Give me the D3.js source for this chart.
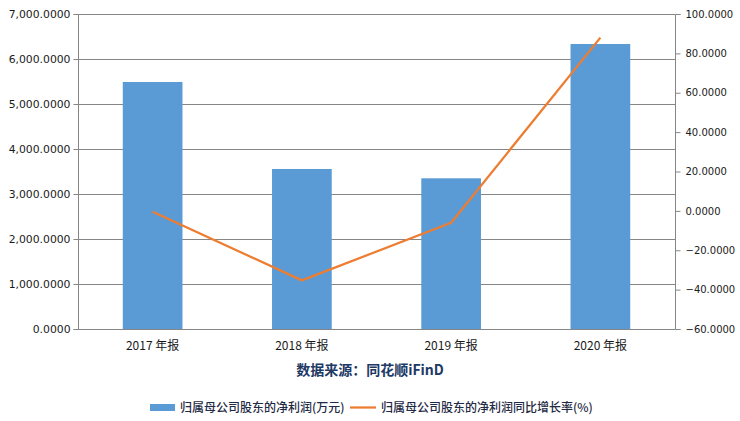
<!DOCTYPE html>
<html>
<head>
<meta charset="utf-8">
<script src="https://cdn.jsdelivr.net/npm/d3@7/dist/d3.min.js"></script>
<style>
html,body{margin:0;padding:0;background:#fff;}
svg{display:block;}
</style>
</head>
<body>
<svg id="chart" width="740" height="421"></svg>
<script>
const categories = ["2017 年报", "2018 年报", "2019 年报", "2020 年报"];
const profit = [5489, 3556, 3349, 6333];
const growth = [-0.4, -35.3, -6.0, 88.0];
const leftTicks = [0, 1000, 2000, 3000, 4000, 5000, 6000, 7000];
const rightTicks = [-60, -40, -20, 0, 20, 40, 60, 80, 100];
const seriesNames = ["归属母公司股东的净利润(万元)", "归属母公司股东的净利润同比增长率(%)"];
const sourceText = "数据来源：同花顺iFinD";

const svg = d3.select("#chart");
const L = 78, R = 675, T = 14, B = 329;
const numFont = "'DejaVu Sans', Verdana, sans-serif";
const cjkFont = "'Noto Sans CJK SC', 'Microsoft YaHei', sans-serif";

const x = d3.scaleBand().domain(categories).range([L, R]).padding(0);
const yL = d3.scaleLinear().domain([0, 7000]).range([B, T]);
const yR = d3.scaleLinear().domain([-60, 100]).range([B, T]);
const fmtL = d3.format(",.4f");
const fmtR = d3.format(".4f");

// gridlines
svg.append("g").selectAll("line").data(leftTicks.filter(d => d > 0)).join("line")
  .attr("x1", L).attr("x2", R)
  .attr("y1", d => Math.round(yL(d)) + 0.5).attr("y2", d => Math.round(yL(d)) + 0.5)
  .attr("stroke", "#868686").attr("stroke-width", 1);

// bars
const bw = x.bandwidth() * 0.4;
svg.append("g").selectAll("rect").data(profit).join("rect")
  .attr("x", (d, i) => x(categories[i]) + (x.bandwidth() - bw) / 2)
  .attr("width", bw)
  .attr("y", d => yL(d))
  .attr("height", d => B - yL(d))
  .attr("fill", "#5B9BD5");

// left axis
const axL = d3.axisLeft(yL).tickValues(leftTicks).tickFormat(fmtL).tickSize(5).tickPadding(3);
const gL = svg.append("g").attr("transform", `translate(${L + 0.5},0)`).call(axL);
gL.select(".domain").attr("stroke", "#868686").attr("d", `M-5,${T + 0.5}H0V${B + 0.5}H-5`);
gL.selectAll(".tick line").attr("stroke", "#868686");
gL.selectAll("text").attr("font-family", numFont).attr("font-size", 10.8).attr("fill", "#1a1a1a");

// right axis
const axR = d3.axisRight(yR).tickValues(rightTicks).tickFormat(fmtR).tickSize(5).tickPadding(5);
const gR = svg.append("g").attr("transform", `translate(${R + 0.5},0)`).call(axR);
gR.select(".domain").attr("stroke", "#868686").attr("d", `M5,${T + 0.5}H0V${B + 0.5}H5`);
gR.selectAll(".tick line").attr("stroke", "#868686");
gR.selectAll("text").attr("font-family", numFont).attr("font-size", 10).attr("fill", "#1a1a1a");

// bottom axis
const axB = d3.axisBottom(x).tickSize(0).tickPadding(12);
const gB = svg.append("g").attr("transform", `translate(0,${B + 0.5})`).call(axB);
gB.select(".domain").attr("stroke", "#868686").attr("d", `M${L},0H${R}`);
gB.selectAll("text").attr("font-family", cjkFont).attr("font-size", 12).attr("fill", "#1a1a1a");

// line
const line = d3.line()
  .x((d, i) => x(categories[i]) + x.bandwidth() / 2)
  .y(d => yR(d));
svg.append("path").datum(growth)
  .attr("d", line)
  .attr("fill", "none")
  .attr("stroke", "#ED7D31")
  .attr("stroke-width", 2.25)
  .attr("stroke-linejoin", "round");

// source text
svg.append("text").attr("x", 370).attr("y", 375)
  .attr("text-anchor", "middle")
  .attr("font-family", cjkFont).attr("font-size", 14).attr("font-weight", "bold")
  .attr("fill", "#203864")
  .text(sourceText);

// legend
const lg = svg.append("g");
lg.append("rect").attr("x", 150).attr("y", 404).attr("width", 25).attr("height", 7).attr("fill", "#5B9BD5");
lg.append("text").attr("x", 180).attr("y", 412)
  .attr("font-family", cjkFont).attr("font-size", 12).attr("font-weight", 500).attr("fill", "#1f2a44")
  .text(seriesNames[0]);
lg.append("line").attr("x1", 350).attr("x2", 376).attr("y1", 407.5).attr("y2", 407.5)
  .attr("stroke", "#ED7D31").attr("stroke-width", 2.25);
lg.append("text").attr("x", 381).attr("y", 412)
  .attr("font-family", cjkFont).attr("font-size", 12).attr("font-weight", 500).attr("fill", "#1f2a44")
  .text(seriesNames[1]);
</script>
</body>
</html>
